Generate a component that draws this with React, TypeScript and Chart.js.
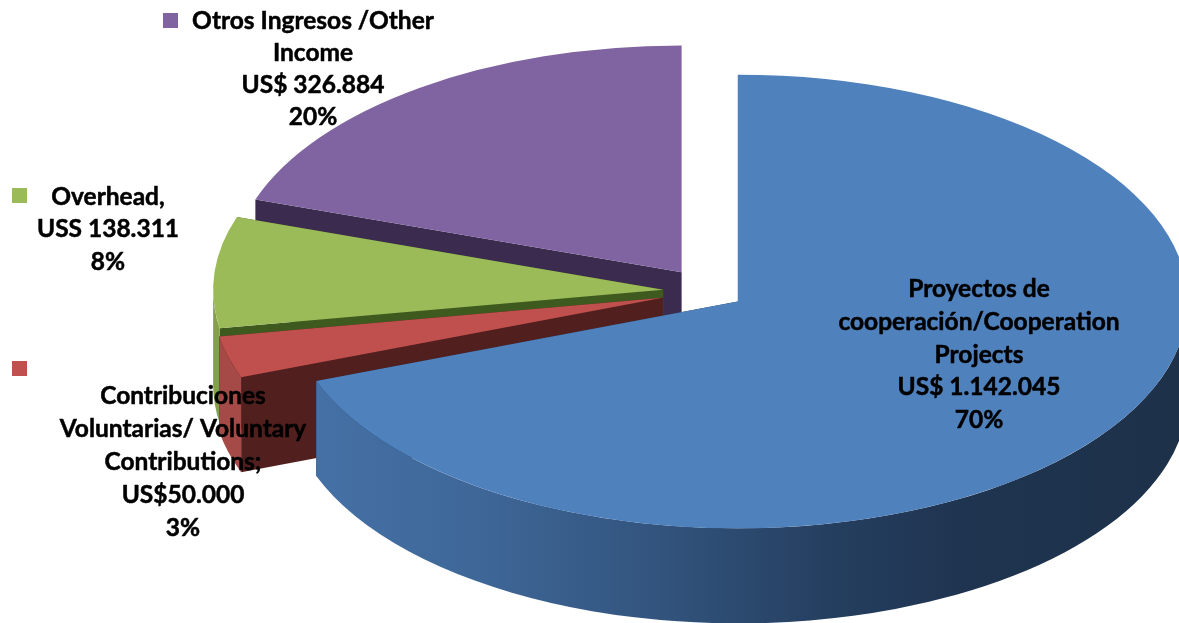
import React, { useEffect, useRef } from "react";
import { Chart, registerables } from "chart.js";

Chart.register(...registerables);

const categories = [
  "Proyectos de cooperación/Cooperation Projects",
  "Contribuciones Voluntarias/ Voluntary Contributions",
  "Overhead",
  "Otros Ingresos /Other Income",
];
const shares = [70, 3, 8, 20];
const topColors = ["#4f81bd", "#c0504d", "#9bbb59", "#8064a2"];
const cutColors = ["#1f3349", "#501f1e", "#3f5a1e", "#3b2c4f"];
const outerColors = ["", "#a64a47", "#84a04a", "#6c5489"];
const blueWallStops: [number, string][] = [
  [0, "#4672a8"],
  [0.2, "#3f6899"],
  [0.4, "#33557f"],
  [0.6, "#253f60"],
  [0.75, "#1f3450"],
  [1, "#1d3149"],
];
const labelLines = [
  ["Proyectos de", "cooperación/Cooperation", "Projects", "US$ 1.142.045", "70%"],
  ["Contribuciones", "Voluntarias/ Voluntary", "Contributions;", "US$50.000", "3%"],
  ["Overhead,", "USS 138.311", "8%"],
  ["Otros Ingresos /Other", "Income", "US$ 326.884", "20%"],
];

// layout constants
const W = 1179;
const H = 623;
const PIE_X = 709;
const PIE_Y = 291.5;
const SQUASH = 0.504;
const RADIUS = 450;
const DEPTH = 95;
const EXPLODE = [35, 48, 46, 47];
const LABEL_POS = [
  { x: 979, y: 289, dy: 32.8 },
  { x: 183, y: 396, dy: 33 },
  { x: 108, y: 197, dy: 32.5 },
  { x: 313, y: 21, dy: 32 },
];
const SWATCH_POS = [null, { x: 12, y: 361 }, { x: 12, y: 188 }, { x: 163, y: 13 }];
const SWATCH = 15;
const FONT = 'bold 24.5px Lato, "Open Sans", sans-serif';

const pie3d = {
  id: "pie3d",
  afterDatasetsUpdate(chart: any) {
    const arcs = chart.getDatasetMeta(0).data;
    arcs.forEach((a: any, i: number) => {
      const mid = (a.startAngle + a.endAngle) / 2;
      a.x += Math.cos(mid) * EXPLODE[i];
      a.y += Math.sin(mid) * EXPLODE[i];
    });
  },
  beforeDatasetsDraw(chart: any) {
    const { ctx, chartArea } = chart;
    const c0x = (chartArea.left + chartArea.right) / 2;
    const c0y = (chartArea.top + chartArea.bottom) / 2;
    const arcs = chart.getDatasetMeta(0).data;
    for (let i = arcs.length - 1; i >= 0; i--) {
      const a = arcs[i];
      const cx = PIE_X + (a.x - c0x);
      const cy = PIE_Y + (a.y - c0y) * SQUASH;
      const rx = a.outerRadius;
      const ry = a.outerRadius * SQUASH;
      const px = (t: number) => cx + Math.cos(t) * rx;
      const py = (t: number) => cy + Math.sin(t) * ry;
      ctx.save();
      ctx.fillStyle = cutColors[i];
      for (const t of [a.startAngle, a.endAngle]) {
        ctx.beginPath();
        ctx.moveTo(cx, cy);
        ctx.lineTo(px(t), py(t));
        ctx.lineTo(px(t), py(t) + DEPTH);
        ctx.lineTo(cx, cy + DEPTH);
        ctx.closePath();
        ctx.fill();
      }
      if (i === 0) {
        const g = ctx.createLinearGradient(cx - rx, 0, cx + rx, 0);
        blueWallStops.forEach(([p, col]) => g.addColorStop(p, col));
        ctx.fillStyle = g;
      } else {
        ctx.fillStyle = outerColors[i];
      }
      // only the part of the rim that faces the viewer (canvas angles 0..PI, modulo a full turn)
      for (const base of [-2 * Math.PI, 0, 2 * Math.PI]) {
        const from = Math.max(a.startAngle, base);
        const to = Math.min(a.endAngle, base + Math.PI);
        if (to > from) {
          ctx.beginPath();
          ctx.ellipse(cx, cy, rx, ry, 0, from, to, false);
          ctx.ellipse(cx, cy + DEPTH, rx, ry, 0, to, from, true);
          ctx.closePath();
          ctx.fill();
        }
      }
      ctx.restore();
    }
    ctx.save();
    ctx.translate(PIE_X, PIE_Y);
    ctx.scale(1, SQUASH);
    ctx.translate(-c0x, -c0y);
  },
  afterDatasetsDraw(chart: any) {
    const { ctx } = chart;
    ctx.restore();
    ctx.save();
    ctx.font = FONT;
    ctx.textAlign = "center";
    ctx.textBaseline = "middle";
    ctx.fillStyle = "#000";
    ctx.strokeStyle = "#000";
    ctx.lineWidth = 0.5;
    ctx.lineJoin = "round";
    labelLines.forEach((lines, i) => {
      const p = LABEL_POS[i];
      lines.forEach((s, j) => {
        ctx.fillText(s, p.x, p.y + j * p.dy);
        ctx.strokeText(s, p.x, p.y + j * p.dy);
      });
      const sw = SWATCH_POS[i];
      if (sw) {
        ctx.fillStyle = topColors[i];
        ctx.fillRect(sw.x, sw.y, SWATCH, SWATCH);
        ctx.fillStyle = "#000";
      }
    });
    ctx.restore();
  },
};

export default function App() {
  const ref = useRef<HTMLCanvasElement>(null);
  useEffect(() => {
    const chart = new Chart(ref.current!, {
      type: "pie",
      data: {
        labels: categories,
        datasets: [
          {
            data: shares,
            backgroundColor: topColors,
            borderWidth: 0,
            radius: RADIUS,
            clip: false,
          } as any,
        ],
      },
      options: {
        responsive: false,
        animation: false,
        events: [],
        devicePixelRatio: 1,
        layout: { padding: 0 },
        plugins: { legend: { display: false }, tooltip: { enabled: false }, title: { display: false } },
      },
      plugins: [pie3d],
    });
    return () => chart.destroy();
  }, []);
  return (
    <div style={{ position: "absolute", left: 0, top: 0, width: W, height: H, background: "#fff", overflow: "hidden" }}>
      <canvas ref={ref} width={W} height={H} style={{ display: "block" }} />
    </div>
  );
}
